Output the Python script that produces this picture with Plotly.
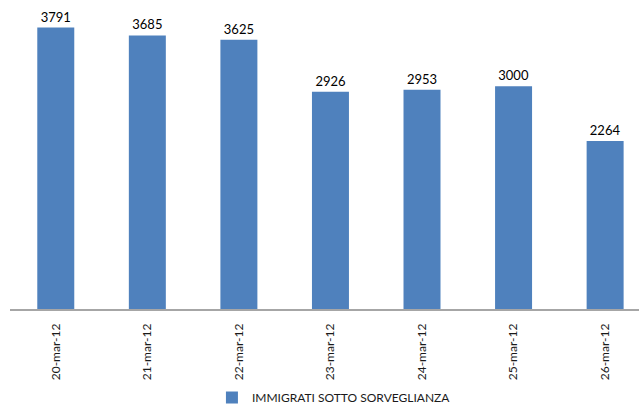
import plotly.graph_objects as go

categories = ["20-mar-12", "21-mar-12", "22-mar-12", "23-mar-12", "24-mar-12", "25-mar-12", "26-mar-12"]
values = [3791, 3685, 3625, 2926, 2953, 3000, 2264]
series_name = "IMMIGRATI SOTTO SORVEGLIANZA"

fig = go.Figure()
fig.add_trace(go.Bar(
    x=categories, y=values, name=series_name,
    marker=dict(color="#4f81bd", line=dict(width=0)),
    width=0.404,
    text=[str(v) for v in values], textposition="outside",
    textfont=dict(family="Lato, Open Sans, sans-serif", size=13, color="#000000"),
    cliponaxis=False,
    showlegend=True,
))

fig.update_layout(
    width=639, height=405,
    margin=dict(l=10, r=0, t=12, b=96, pad=0, autoexpand=False),
    paper_bgcolor="white", plot_bgcolor="white",
    font=dict(family="Lato, Open Sans, sans-serif", size=12, color="#000000"),
    xaxis=dict(
        type="category", range=[-0.5, 6.37], automargin=False,
        showline=True, linecolor="#a6a6a6", linewidth=1.5,
        showgrid=False, ticks="", tickangle=-90,
        ticklabelstandoff=8,
        tickfont=dict(family="Lato, Open Sans, sans-serif", size=12, color="#1a1a1a"),
    ),
    yaxis=dict(range=[0, 4000], visible=False, showgrid=False, automargin=False),
    showlegend=True,
    legend=dict(
        orientation="h", x=0.515, xanchor="center", y=-0.298, yanchor="middle",
        font=dict(family="Lato, Open Sans, sans-serif", size=12, color="#1a1a1a"),
        itemwidth=30,
    ),
)

fig.write_html(
    "out.html",
    config={"displayModeBar": False},
    post_script="document.body.style.margin='0';document.body.style.overflow='hidden';",
)
